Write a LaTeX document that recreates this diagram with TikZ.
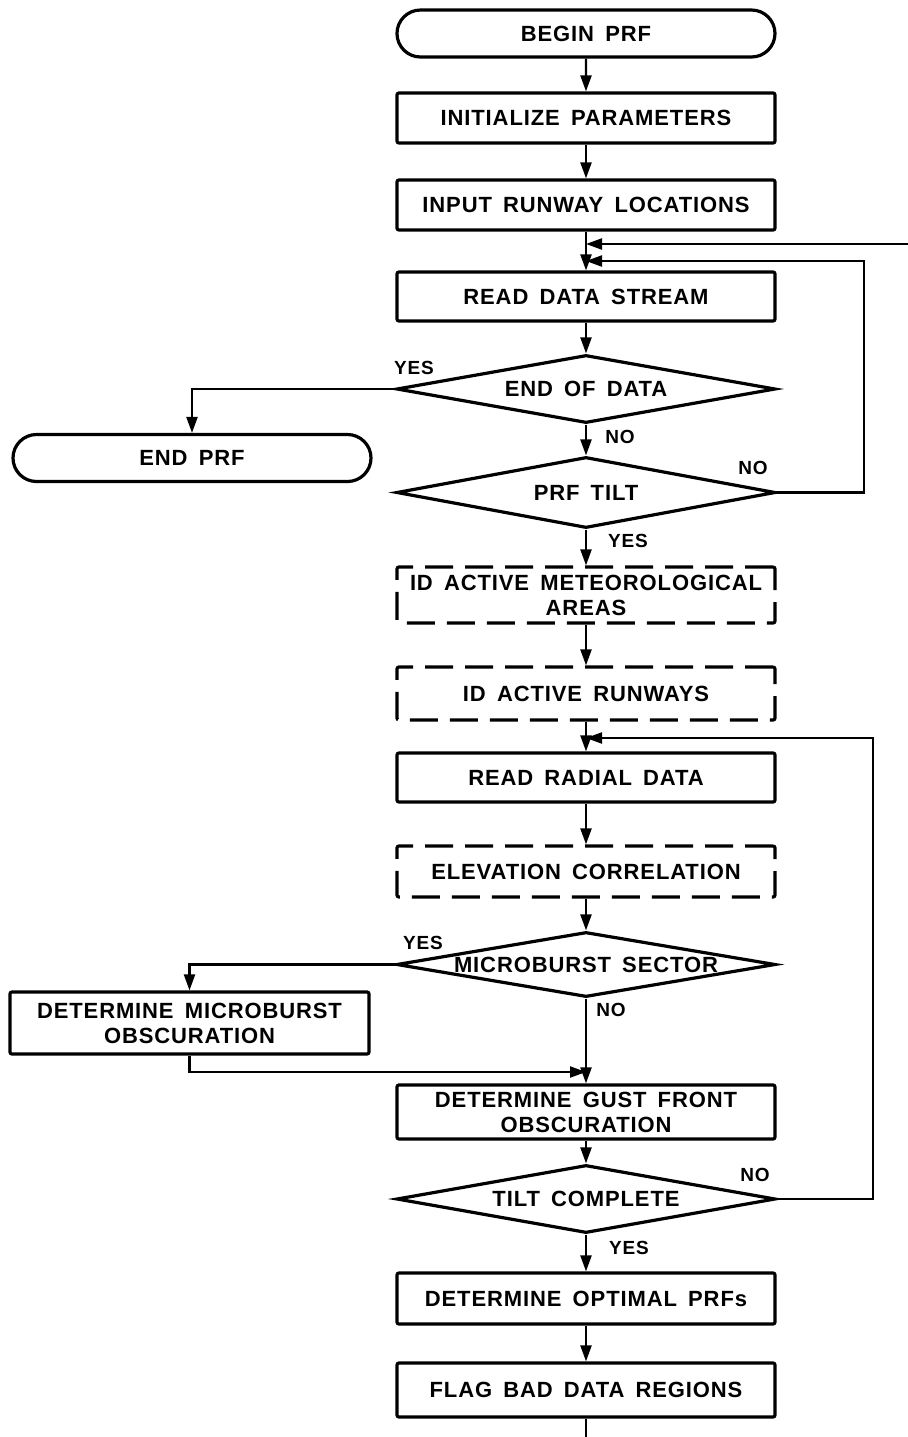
\documentclass[tikz,border=0pt]{standalone}
\usepackage{fontspec}
\setmainfont{Liberation Sans}[LetterSpace=4,WordSpace=1.6]
\usetikzlibrary{arrows.meta,shapes.geometric,shapes.misc}
\tikzset{
  base/.style={draw=black,line width=1.6pt,inner sep=0pt,align=center,font=\fontsize{11}{12.5}\selectfont\bfseries},
  procbox/.style={base,rectangle,rounded corners=1pt,minimum width=189pt,minimum height=#1},
  dashbox/.style={procbox=#1,dash pattern=on 14pt off 6pt},
  termbox/.style={base,rounded rectangle,minimum width=#1,minimum height=23.5pt},
  decide/.style={base,diamond,aspect=5.5,minimum width=189.5pt,minimum height=#1},
  conn/.style={line width=1.1pt,draw=black},
  arr/.style={conn,-{Triangle[length=8pt,width=5.5pt]}},
  lbl/.style={font=\fontsize{9.5}{10}\selectfont\bfseries,inner sep=0pt}
}
\begin{document}
\begin{tikzpicture}[x=0.5pt,y=-0.5pt]
\useasboundingbox (0,0) rectangle (908,1437);
% nodes
\node[termbox=189pt] (begin) at (586,33.5) {BEGIN PRF};
\node[procbox=25pt] (init) at (586,118) {INITIALIZE PARAMETERS};
\node[procbox=25pt] (input) at (586,205) {INPUT RUNWAY LOCATIONS};
\node[procbox=24.5pt] (rds) at (586,296.5) {READ DATA STREAM};
\node[decide=34pt] (eod) at (586,389) {END OF DATA};
\node[termbox=179pt] (endprf) at (192,458) {END PRF};
\node[decide=35.5pt] (tilt) at (586,492.5) {PRF TILT};
\node[dashbox=28pt] (idmet) at (586,595) {ID ACTIVE METEOROLOGICAL\\AREAS};
\node[dashbox=26.5pt] (idrw) at (586,693.5) {ID ACTIVE RUNWAYS};
\node[procbox=24.5pt] (rrd) at (586,777.5) {READ RADIAL DATA};
\node[dashbox=25.5pt] (elev) at (586,871.5) {ELEVATION CORRELATION};
\node[decide=32.5pt] (mb) at (586,964.5) {MICROBURST SECTOR};
\node[base,rectangle,rounded corners=1pt,minimum width=179.5pt,minimum height=31pt] (dmb) at (189.5,1023) {DETERMINE MICROBURST\\OBSCURATION};
\node[procbox=27pt] (gust) at (586,1112) {DETERMINE GUST FRONT\\OBSCURATION};
\node[decide=34pt] (tc) at (586,1199) {TILT COMPLETE};
\node[procbox=25.5pt] (opt) at (586,1298.5) {DETERMINE OPTIMAL PRFs};
\node[procbox=27pt] (flag) at (586,1390) {FLAG BAD DATA REGIONS};
% junction coordinates
\coordinate (j1) at (586,244);
\coordinate (j2) at (586,261);
\coordinate (inR) at (908,244);
\coordinate (j4) at (586,738);
\coordinate (j3) at (586,1072);
\coordinate (bot) at (586,1437);
% connectors
\draw[arr] (begin) -- (init);
\draw[arr] (init) -- (input);
\draw[arr] (input) -- (rds);
\draw[arr] (inR) -- (j1);
\draw[arr] (tilt.east) -- ++(87,0) |- (j2);
\draw[arr] (rds) -- (eod);
\draw[arr] (eod.west) -| (endprf.north);
\draw[arr] (eod) -- (tilt);
\draw[arr] (tilt) -- (idmet);
\draw[arr] (idmet) -- (idrw);
\draw[arr] (idrw) -- (rrd);
\draw[arr] (tc.east) -- ++(96,0) |- (j4);
\draw[arr] (rrd) -- (elev);
\draw[arr] (elev) -- (mb);
\draw[arr] (mb.west) -| (dmb.north);
\draw[arr] (dmb.south) |- (j3);
\draw[arr] (mb) -- (gust);
\draw[arr] (gust) -- (tc);
\draw[arr] (tc) -- (opt);
\draw[arr] (opt) -- (flag);
\draw[conn] (flag) -- (bot);
% labels
\node[lbl] (l1) at (414,368) {YES};
\node[lbl] (l2) at (620,437) {NO};
\node[lbl] (l3) at (753,468) {NO};
\node[lbl] (l4) at (628,541) {YES};
\node[lbl] (l5) at (423,943) {YES};
\node[lbl] (l6) at (611,1010) {NO};
\node[lbl] (l7) at (755,1175) {NO};
\node[lbl] (l8) at (629,1248) {YES};
\end{tikzpicture}
\end{document}
